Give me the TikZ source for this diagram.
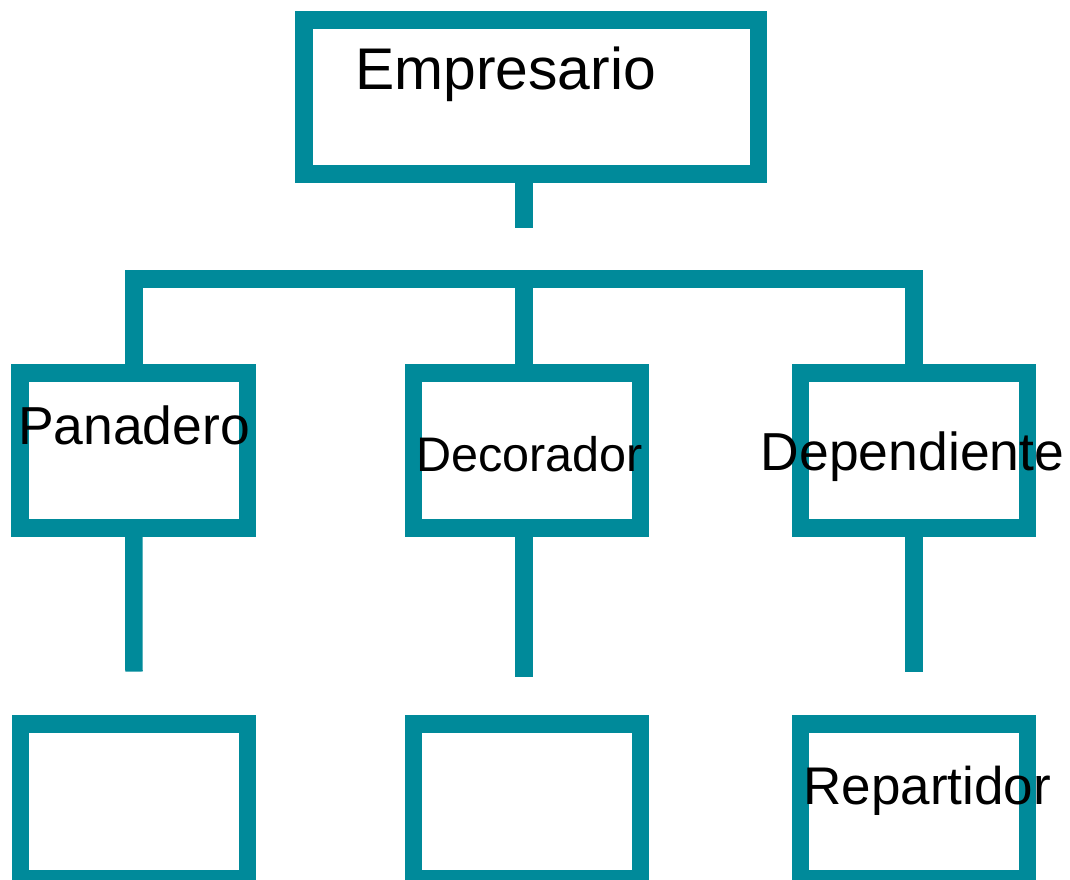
\documentclass[tikz,border=0pt]{standalone}
\usepackage{fontspec}
\setmainfont{Liberation Sans}
\definecolor{tealline}{HTML}{008A9A}
\begin{document}
\begin{tikzpicture}[x=0.75pt,y=-0.75pt,
  box/.style={draw=tealline, line width=13.125pt, rectangle, inner sep=0pt,
              minimum width=170.6pt, minimum height=116.25pt},
  topbox/.style={box, minimum width=340.9pt, minimum height=115.5pt},
  conn/.style={draw=tealline, line width=13.125pt, line cap=butt, line join=miter},
  lbl/.style={anchor=base, inner sep=0pt, text=black}]
\useasboundingbox (0,0) rectangle (1070,879);
% boxes
\node[topbox] (emp) at (531.25,97) {};
\node[box] (pan) at (133.75,450.5) {};
\node[box] (dec) at (527,450.25) {};
\node[box] (dep) at (914,450.5) {};
\node[box] (b1) at (134,801.5) {};
\node[box] (b2) at (527,801.5) {};
\node[box] (rep) at (914,801.5) {};
% coordinates
\coordinate (stubtop) at (524,228);
\coordinate (busc) at (524,279);
\coordinate (s1) at (134,671.5);
\coordinate (s2) at (524,677);
\coordinate (s3) at (914,671.5);
% connectors
\draw[conn] (emp.south -| stubtop) -- (stubtop);
\draw[conn] (pan.north) |- (busc) -| (dep.north);
\draw[conn] (busc) -- (dec.north -| busc);
\draw[conn] (pan.south) -- (s1);
\draw[conn] (dec.south -| s2) -- (s2);
\draw[conn] (dep.south) -- (s3);
% labels
\node[lbl, font=\fontsize{44.1pt}{50pt}\selectfont] (tEmp) at (505.5,89) {Empresario};
\node[lbl, font=\fontsize{40.1pt}{46pt}\selectfont] (tPan) at (134,444) {Panadero};
\node[lbl, font=\fontsize{36.4pt}{42pt}\selectfont] (tDec) at (529.7,471.7) {Decorador};
\node[lbl, font=\fontsize{40.1pt}{46pt}\selectfont] (tDep) at (912.5,470) {Dependiente};
\node[lbl, font=\fontsize{39.75pt}{46pt}\selectfont] (tRep) at (927.3,804) {Repartidor};
\end{tikzpicture}
\end{document}
